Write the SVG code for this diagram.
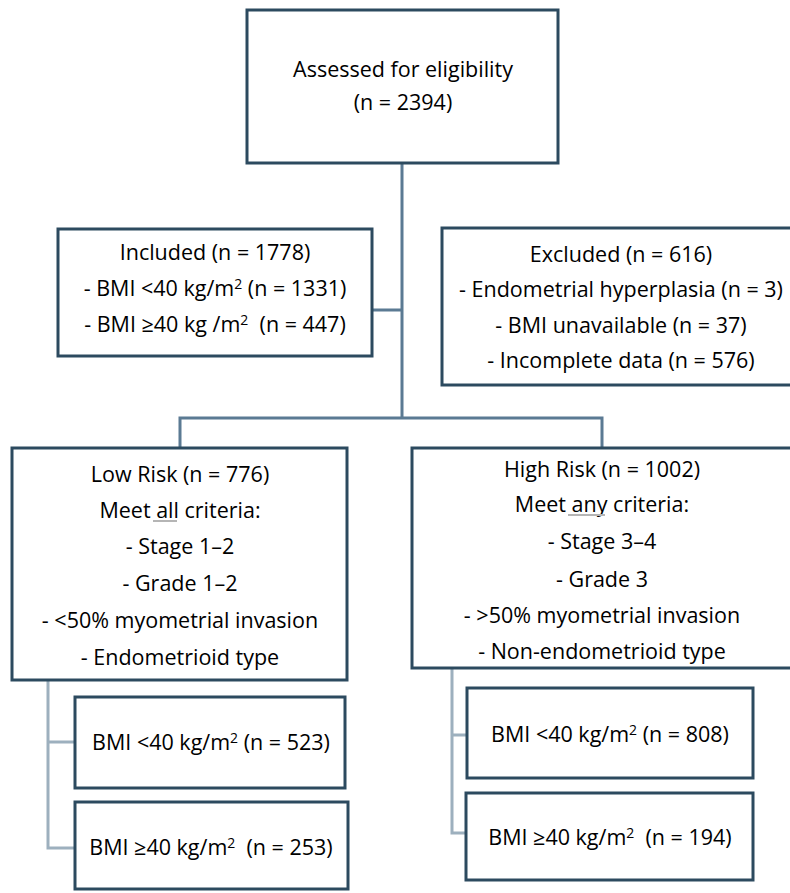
<svg xmlns="http://www.w3.org/2000/svg" width="790" height="893" viewBox="0 0 790 893">
<style>
.box{fill:#fff;stroke:#2c4a5f;stroke-width:3}
.t{font-family:"Open Sans","Liberation Sans",sans-serif;font-size:21.5px;fill:#000;text-anchor:middle}
.c{fill:none;stroke:#5b7a93;stroke-width:3}
.cs{fill:none;stroke:#9db0be;stroke-width:3}
.ul{stroke:#b5b5b5;stroke-width:2}
</style>
<rect width="790" height="893" fill="#fff"/>
<g id="connectors">
<path class="c" d="M402,163 V418 M372,310 H402 M180,448 V418 H602 V448"/>
<path class="cs" d="M48,680 V848 H75 M48,742 H75"/>
<path class="cs" d="M452,668 V833 H466 M452,735 H467"/>
</g>
<g id="assessed">
<rect class="box" x="247" y="10" width="311" height="153"/>
<text class="t" x="403" y="77">Assessed for eligibility</text>
<text class="t" x="403" y="110">(n = 2394)</text>
</g>
<g id="included">
<rect class="box" x="58" y="229" width="314" height="127"/>
<text class="t" x="215" y="260">Included (n = 1778)</text>
<text class="t" x="215" y="296">- BMI &lt;40 kg/m<tspan font-size="14" dy="-7">2</tspan><tspan dy="7"> (n = 1331)</tspan></text>
<text class="t" x="215" y="332">- BMI ≥40 kg /m<tspan font-size="14" dy="-7">2</tspan><tspan dy="7">&#160; (n = 447)</tspan></text>
</g>
<g id="excluded">
<rect class="box" x="442" y="228" width="358" height="157"/>
<text class="t" x="621" y="262">Excluded (n = 616)</text>
<text class="t" x="621" y="297">- Endometrial hyperplasia (n = 3)</text>
<text class="t" x="621" y="333">- BMI unavailable (n = 37)</text>
<text class="t" x="621" y="368">- Incomplete data (n = 576)</text>
</g>
<g id="lowrisk">
<rect class="box" x="12" y="448" width="335" height="232"/>
<text class="t" x="180" y="482">Low Risk (n = 776)</text>
<text class="t" x="180" y="518">Meet all criteria:</text>
<line class="ul" x1="153" y1="521" x2="177" y2="521"/>
<text class="t" x="180" y="554">- Stage 1–2</text>
<text class="t" x="180" y="591">- Grade 1–2</text>
<text class="t" x="180" y="628">- &lt;50% myometrial invasion</text>
<text class="t" x="180" y="665">- Endometrioid type</text>
</g>
<g id="highrisk">
<rect class="box" x="412" y="448" width="380" height="220"/>
<text class="t" x="602" y="477">High Risk (n = 1002)</text>
<text class="t" x="602" y="512">Meet any criteria:</text>
<line class="ul" x1="568" y1="515" x2="605" y2="515"/>
<text class="t" x="602" y="549">- Stage 3–4</text>
<text class="t" x="602" y="587">- Grade 3</text>
<text class="t" x="602" y="623">- &gt;50% myometrial invasion</text>
<text class="t" x="602" y="659">- Non-endometrioid type</text>
</g>
<g id="low-bmi-lt40">
<rect class="box" x="75" y="697" width="270" height="91"/>
<text class="t" x="211" y="750">BMI &lt;40 kg/m<tspan font-size="14" dy="-7">2</tspan><tspan dy="7"> (n = 523)</tspan></text>
</g>
<g id="low-bmi-ge40">
<rect class="box" x="75" y="802" width="273" height="87"/>
<text class="t" x="211" y="855">BMI ≥40 kg/m<tspan font-size="14" dy="-7">2</tspan><tspan dy="7">&#160; (n = 253)</tspan></text>
</g>
<g id="high-bmi-lt40">
<rect class="box" x="467" y="688" width="286" height="90"/>
<text class="t" x="610" y="742">BMI &lt;40 kg/m<tspan font-size="14" dy="-7">2</tspan><tspan dy="7"> (n = 808)</tspan></text>
</g>
<g id="high-bmi-ge40">
<rect class="box" x="466" y="793" width="287" height="87"/>
<text class="t" x="610" y="845">BMI ≥40 kg/m<tspan font-size="14" dy="-7">2</tspan><tspan dy="7">&#160; (n = 194)</tspan></text>
</g>
</svg>
